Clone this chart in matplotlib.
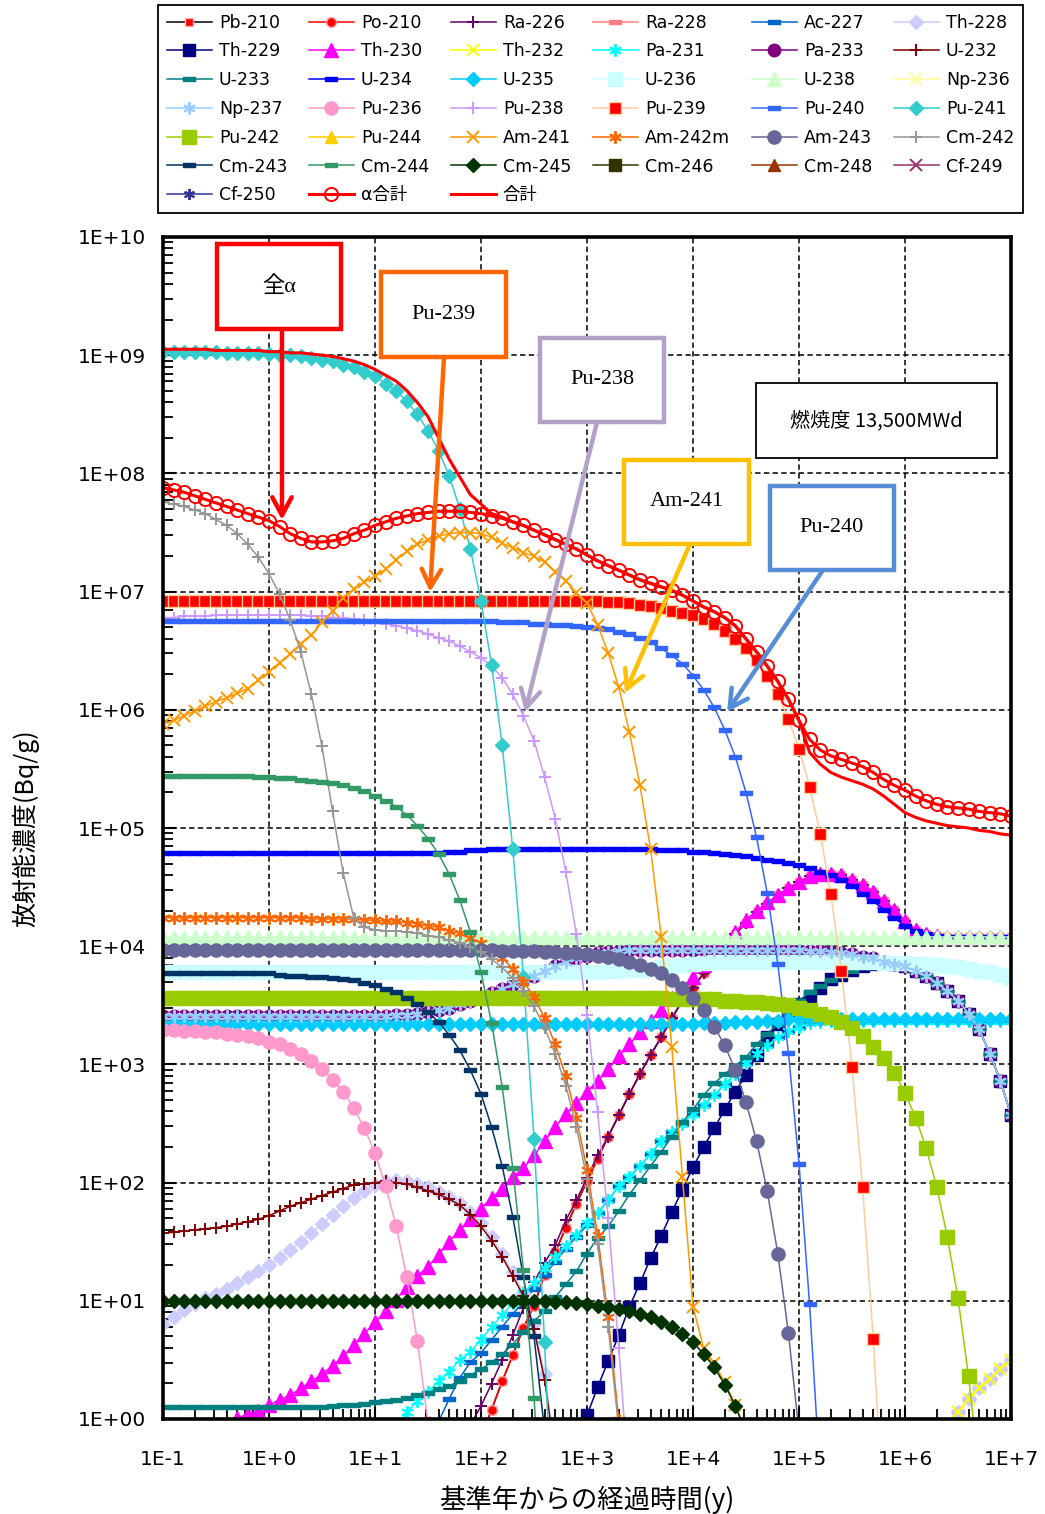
import numpy as np
import matplotlib
matplotlib.use("Agg")
import matplotlib.pyplot as plt
from matplotlib.path import Path
from matplotlib.patches import Rectangle
from matplotlib.ticker import LogLocator, NullFormatter

plt.rcParams['font.family'] = ['DejaVu Sans', 'Noto Sans CJK JP']

nan = np.nan

# time grid of the table: 10 points per decade, 1E-1 .. 1E+7 y
log_t = np.round(np.arange(-1.0, 7.001, 0.1), 1)
t = 10.0 ** log_t

x_tick_labels = ['1E-1', '1E+0', '1E+1', '1E+2', '1E+3', '1E+4', '1E+5', '1E+6', '1E+7']
y_tick_labels = ['1E+00', '1E+01', '1E+02', '1E+03', '1E+04', '1E+05',
                 '1E+06', '1E+07', '1E+08', '1E+09', '1E+10']

# each series: (log10 t of first value, log10 activity [Bq/g])
pb210 = (2.0, [-0.15, 0.08, 0.32, 0.54, 0.77, 0.96, 1.22, 1.41, 1.62, 1.82, 2.01, 2.20,
               2.39, 2.57, 2.75, 2.92, 3.08, 3.23, 3.39, 3.54, 3.65, 3.77, 3.89, 4.00, 4.10,
               4.20, 4.29, 4.36, 4.43, 4.49, 4.54, 4.59, 4.61, 4.61, 4.60, 4.56, 4.52, 4.46,
               4.38, 4.31, 4.21, 4.14, 4.10, 4.09] + [4.08] * 7)
po210 = pb210
ra226 = (1.9, [-0.05, 0.11, 0.30, 0.50, 0.71, 0.94, 1.16, 1.32, 1.47, 1.68, 1.85, 2.04,
               2.23, 2.39, 2.57, 2.75, 2.92, 3.08, 3.23, 3.39, 3.54, 3.65, 3.77, 3.89, 4.00,
               4.10, 4.20, 4.29, 4.36, 4.43, 4.49, 4.54, 4.59, 4.61, 4.61, 4.60, 4.56, 4.52,
               4.46, 4.38, 4.31, 4.21, 4.14, 4.10, 4.09] + [4.08] * 7)
th232 = (6.3, [-0.14, -0.04, 0.06, 0.17, 0.26, 0.34, 0.42, 0.50])
ra228 = th232
ac227 = (1.5, [-0.3, -0.02, 0.17, 0.35, 0.48, 0.56, 0.67, 0.78, 0.89, 0.99, 1.10, 1.22,
               1.33, 1.44, 1.54, 1.64, 1.74, 1.85, 1.97, 2.05, 2.14, 2.24, 2.35, 2.43, 2.50,
               2.58, 2.66, 2.74, 2.83, 2.92, 3.01, 3.09, 3.16, 3.23, 3.28, 3.32, 3.35, 3.36]
         + [3.37] * 18)
th228 = (-1.0, [0.80, 0.86, 0.92, 0.97, 1.02, 1.06, 1.10, 1.15, 1.20, 1.25, 1.30, 1.36,
                1.43, 1.50, 1.57, 1.65, 1.73, 1.80, 1.87, 1.93, 1.98, 2.01, 2.02, 2.01, 1.99,
                1.96, 1.92, 1.88, 1.83, 1.75, 1.66, 1.54, 1.40, 1.24, 1.07, 0.80, 0.38, -0.3]
         + [nan] * 35 + [-0.14, -0.04, 0.06, 0.17, 0.26, 0.34, 0.42, 0.50])
th229 = (2.9, [-0.3, 0.03, 0.27, 0.49, 0.71, 0.95, 1.15, 1.36, 1.55, 1.75, 1.94, 2.13,
               2.30, 2.46, 2.62, 2.77, 2.91, 3.08, 3.23, 3.34, 3.43, 3.51, 3.58, 3.65, 3.72,
               3.76, 3.80, 3.83, 3.85, 3.86, 3.85, 3.83, 3.79, 3.75, 3.69, 3.62, 3.54, 3.43,
               3.30, 3.09, 2.86, 2.57])
th230 = (-0.4, [-0.12, 0.01, 0.04, 0.07, 0.12, 0.16, 0.20, 0.26, 0.32, 0.38, 0.45, 0.53,
                0.63, 0.72, 0.82, 0.91, 1.01, 1.12, 1.21, 1.29, 1.39, 1.50, 1.60, 1.69, 1.78,
                1.87, 1.95, 2.05, 2.12, 2.23, 2.35, 2.47, 2.58, 2.67, 2.77, 2.86, 2.96, 3.07,
                3.17, 3.27, 3.37, 3.46, 3.56, 3.65, 3.74, 3.84, 3.94, 4.03, 4.12, 4.22, 4.30,
                4.37, 4.43, 4.49, 4.54, 4.59, 4.61, 4.61, 4.60, 4.56, 4.52, 4.46, 4.38, 4.31,
                4.21, 4.14, 4.10, 4.09] + [4.08] * 7)
pa231 = (1.2, [-0.1, 0.06, 0.15, 0.23, 0.32, 0.40, 0.50, 0.57, 0.67, 0.78, 0.88, 0.98,
               1.07, 1.15, 1.28, 1.37, 1.46, 1.56, 1.66, 1.74, 1.85, 1.97, 2.05, 2.14, 2.24,
               2.35, 2.43, 2.50, 2.58, 2.66, 2.74, 2.83, 2.92, 3.01, 3.09, 3.16, 3.23, 3.28,
               3.32, 3.35, 3.36] + [3.37] * 18)
np237 = (-1.0, [3.41] * 22 +
         [3.42, 3.42, 3.43, 3.44, 3.46, 3.48, 3.51, 3.54, 3.57, 3.60, 3.64, 3.68, 3.72,
          3.75, 3.79, 3.83, 3.87, 3.90, 3.92, 3.94, 3.95, 3.96] + [3.97] * 17 +
         [3.96, 3.96, 3.95, 3.94, 3.93, 3.91, 3.90, 3.87, 3.85, 3.83, 3.79, 3.75, 3.69,
          3.62, 3.54, 3.43, 3.30, 3.09, 2.86, 2.57])
pa233 = np237
u232 = (-1.0, [1.57, 1.58, 1.59, 1.60, 1.61, 1.62, 1.63, 1.65, 1.67, 1.69, 1.72, 1.76,
               1.80, 1.83, 1.86, 1.89, 1.92, 1.95, 1.98, 1.99, 2.00, 2.01, 2.00, 1.99, 1.96,
               1.93, 1.90, 1.86, 1.81, 1.73, 1.63, 1.51, 1.37, 1.21, 1.04, 0.76, 0.33, -0.3])
u233 = (-1.0, [0.10] * 16 +
        [0.11, 0.12, 0.12, 0.13, 0.14, 0.15, 0.16, 0.18, 0.20, 0.22, 0.25, 0.28, 0.32,
         0.37, 0.42, 0.48, 0.55, 0.63, 0.74, 0.83, 0.91, 1.03, 1.14, 1.25, 1.40, 1.53,
         1.63, 1.76, 1.90, 2.02, 2.14, 2.26, 2.39, 2.51, 2.62, 2.74, 2.84, 2.92, 2.99,
         3.06, 3.17, 3.26, 3.34, 3.44, 3.54, 3.61, 3.66, 3.71, 3.76, 3.79, 3.82, 3.84,
         3.85, 3.84, 3.82, 3.79, 3.75, 3.69, 3.62, 3.54, 3.43, 3.30, 3.09, 2.86, 2.57])
u234 = (-1.0, [4.79] * 27 + [4.80, 4.80, 4.81, 4.81] + [4.82] * 16 +
        [4.81, 4.81, 4.81, 4.80, 4.80, 4.79, 4.78, 4.77, 4.76, 4.75, 4.73, 4.72, 4.70,
         4.69, 4.66, 4.63, 4.60, 4.56, 4.51, 4.44, 4.38, 4.31, 4.24, 4.17, 4.13, 4.10,
         4.09] + [4.08] * 7)
u235 = (-1.0, [3.34] * 51 + [3.35, 3.35, 3.35, 3.36, 3.36, 3.36, 3.37, 3.37] + [3.38] * 22)
u236 = (-1.0, [3.78] * 42 + [3.79, 3.79, 3.80, 3.80, 3.81, 3.82, 3.83, 3.84, 3.85, 3.86]
        + [3.87] * 16 +
        [3.86, 3.86, 3.86, 3.85, 3.85, 3.84, 3.83, 3.82, 3.81, 3.79, 3.78, 3.76, 3.73])
u238 = (-1.0, [4.08] * 81)
pu236 = (-1.0, [3.29, 3.29, 3.28, 3.28, 3.27, 3.27, 3.26, 3.25, 3.24, 3.22, 3.19, 3.17,
                3.13, 3.09, 3.03, 2.96, 2.87, 2.77, 2.63, 2.46, 2.25, 1.97, 1.63, 1.20, 0.66,
                -0.03, -0.8])
pu238 = (-1.0, [6.78, 6.78, 6.79, 6.79, 6.79] + [6.80] * 9 +
         [6.79, 6.79, 6.78, 6.78, 6.77, 6.76, 6.75, 6.73, 6.71, 6.69, 6.67, 6.64, 6.61,
          6.58, 6.54, 6.49, 6.44, 6.37, 6.27, 6.13, 5.95, 5.74, 5.43, 5.08, 4.63, 4.10,
          3.42, 2.60, 1.70, 0.60, -0.6])
pu239 = (-1.0, [6.92] * 42 +
         [6.91, 6.91, 6.90, 6.89, 6.88, 6.86, 6.84, 6.82, 6.80, 6.77, 6.73, 6.67, 6.60,
          6.52, 6.42, 6.29, 6.13, 5.92, 5.67, 5.35, 4.95, 4.44, 3.79, 2.98, 1.96, 0.68,
          -0.9])
pu240 = (-1.0, [6.75] * 32 +
         [6.74, 6.74, 6.74, 6.73, 6.73, 6.72, 6.72, 6.71, 6.70, 6.69, 6.68, 6.66, 6.64,
          6.61, 6.57, 6.52, 6.46, 6.39, 6.29, 6.17, 6.02, 5.83, 5.60, 5.30, 4.92, 4.45,
          3.85, 3.10, 2.16, 0.97, -0.5])
pu241 = (-1.0, [9.03] * 6 + [9.02] * 4 +
         [9.01, 9.00, 9.00, 8.99, 8.98, 8.96, 8.95, 8.92, 8.90, 8.86, 8.82, 8.76, 8.70,
          8.61, 8.50, 8.36, 8.19, 7.98, 7.70, 7.36, 6.92, 6.38, 5.70, 4.82, 3.74, 2.37,
          0.65, -1.5])
pu242 = (-1.0, [3.56] * 48 + [3.55] * 5 +
         [3.54, 3.54, 3.53, 3.53, 3.52, 3.51, 3.50, 3.48, 3.46, 3.43, 3.40, 3.36, 3.31,
          3.24, 3.15, 3.05, 2.93, 2.76, 2.55, 2.29, 1.96, 1.54, 1.02, 0.36, -0.46])
am241 = (-1.0, [5.88, 5.91, 5.95, 5.99, 6.03, 6.07, 6.10, 6.14, 6.18, 6.25, 6.32, 6.40,
                6.47, 6.56, 6.63, 6.74, 6.84, 6.95, 7.02, 7.08, 7.13, 7.19, 7.27, 7.34, 7.40,
                7.44, 7.47, 7.49, 7.50, 7.50, 7.49, 7.46, 7.41, 7.37, 7.33, 7.30, 7.25, 7.17,
                7.09, 6.99, 6.90, 6.72, 6.48, 6.19, 5.81, 5.36, 4.82, 4.08, 3.15, 2.05, 0.95,
                0.60, 0.47, 0.31, 0.12, -0.11])
am242m = (-1.0, [4.24] * 14 + [4.23] * 5 +
          [4.22, 4.22, 4.21, 4.21, 4.20, 4.19, 4.17, 4.16, 4.13, 4.11, 4.07, 4.03, 3.97,
           3.90, 3.81, 3.70, 3.57, 3.39, 3.17, 2.90, 2.55, 2.11, 1.56, 0.86, -0.01, -1.2])
am243 = (-1.0, [3.97] * 32 +
         [3.96, 3.96, 3.96, 3.96, 3.95, 3.95, 3.94, 3.94, 3.93, 3.92, 3.91, 3.89, 3.87,
          3.84, 3.81, 3.77, 3.71, 3.65, 3.56, 3.46, 3.32, 3.16, 2.95, 2.68, 2.35, 1.93,
          1.40, 0.73, -0.11])
cm242 = (-1.0, [7.76, 7.74, 7.72, 7.69, 7.66, 7.61, 7.56, 7.49, 7.40, 7.29, 7.15, 6.98,
                6.76, 6.49, 6.13, 5.69, 5.14, 4.62, 4.24, 4.16, 4.14, 4.13, 4.13, 4.12, 4.11,
                4.09, 4.08, 4.05, 4.03, 3.99, 3.95, 3.89, 3.82, 3.73, 3.62, 3.49, 3.31, 3.09,
                2.82, 2.47, 2.03, 1.48, 0.78, -0.09])
cm243 = (-1.0, [3.77] * 11 +
         [3.76, 3.75, 3.75, 3.74, 3.74, 3.73, 3.72, 3.71, 3.69, 3.67, 3.64, 3.61, 3.56,
          3.51, 3.44, 3.36, 3.25, 3.12, 2.95, 2.75, 2.47, 2.14, 1.71, 1.20, 0.70, -0.1])
cm244 = (-1.0, [5.44] * 9 +
         [5.43, 5.43, 5.42, 5.42, 5.41, 5.40, 5.39, 5.38, 5.36, 5.34, 5.31, 5.27, 5.23,
          5.18, 5.11, 5.02, 4.91, 4.78, 4.61, 4.39, 4.12, 3.78, 3.35, 2.81, 2.12, 1.26,
          0.18, -1.18])
cm245 = (-1.0, [1.00] * 37 +
         [0.99, 0.99, 0.98, 0.97, 0.96, 0.95, 0.93, 0.91, 0.89, 0.86, 0.82, 0.78, 0.72,
          0.65, 0.55, 0.44, 0.29, 0.11, -0.12])
alpha_total = (-1.0, [7.88, 7.86, 7.84, 7.81, 7.78, 7.75, 7.72, 7.69, 7.66, 7.63, 7.60,
                      7.55, 7.49, 7.45, 7.42, 7.42, 7.43, 7.45, 7.49, 7.52, 7.56, 7.59,
                      7.62, 7.64, 7.66, 7.67, 7.68, 7.68, 7.68, 7.67, 7.66, 7.64, 7.62,
                      7.59, 7.56, 7.52, 7.48, 7.44, 7.40, 7.36, 7.31, 7.26, 7.22, 7.18,
                      7.14, 7.10, 7.07, 7.04, 7.01, 6.97, 6.92, 6.87, 6.83, 6.78, 6.71,
                      6.60, 6.49, 6.37, 6.24, 6.09, 5.91, 5.75, 5.66, 5.61, 5.58, 5.55,
                      5.52, 5.47, 5.41, 5.36, 5.32, 5.27, 5.23, 5.20, 5.18, 5.17, 5.16,
                      5.14, 5.13, 5.12, 5.10])
grand_total = (-1.0, [9.05] * 5 + [9.04] * 5 +
               [9.03, 9.03, 9.02, 9.02, 9.01, 9.00, 8.99, 8.97, 8.95, 8.92, 8.88, 8.83,
                8.78, 8.70, 8.60, 8.48, 8.30, 8.12, 7.97, 7.82, 7.74, 7.66, 7.63, 7.59,
                7.56, 7.52, 7.48, 7.44, 7.40, 7.36, 7.31, 7.26, 7.22, 7.18, 7.14, 7.10,
                7.07, 7.04, 7.01, 6.97, 6.92, 6.87, 6.83, 6.78, 6.71, 6.60, 6.49, 6.37,
                6.24, 6.09, 5.91, 5.64, 5.54, 5.47, 5.43, 5.40, 5.37, 5.33, 5.27, 5.20,
                5.13, 5.09, 5.06, 5.04, 5.02, 5.01, 5.00, 4.98, 4.97, 4.95, 4.94])
no_data = None   # Np-236, Pu-244, Cm-246, Cm-248, Cf-249, Cf-250 stay below 1 Bq/g


def on_grid(series):
    start, logs = series
    arr = np.full(log_t.size, nan)
    i0 = int(round((start - log_t[0]) * 10))
    arr[i0:i0 + len(logs)] = logs
    return 10.0 ** arr


dash = Path([(-1, -0.33), (1, -0.33), (1, 0.33), (-1, 0.33), (-1, -0.33)],
            [Path.MOVETO, Path.LINETO, Path.LINETO, Path.LINETO, Path.CLOSEPOLY])
star = (6, 2, 0)

# label, data, line colour, marker, size, face, edge
styles = [
    ('Pb-210', pb210, '#000000', 's', 6, '#FF0000', '#FFB0B0'),
    ('Po-210', po210, '#FF0000', 'o', 7, '#FF0000', '#FF9999'),
    ('Ra-226', ra226, '#660066', '+', 9, None, None),
    ('Ra-228', ra228, '#FF8080', dash, 8, None, None),
    ('Ac-227', ac227, '#0066CC', dash, 9, None, None),
    ('Th-228', th228, '#CCCCFF', 'D', 7, None, None),
    ('Th-229', th229, '#000080', 's', 9, None, None),
    ('Th-230', th230, '#FF00FF', '^', 9.5, None, None),
    ('Th-232', th232, '#FFFF00', 'x', 8.5, None, None),
    ('Pa-231', pa231, '#00FFFF', star, 9, None, None),
    ('Pa-233', pa233, '#800080', 'o', 9, None, None),
    ('U-232', u232, '#800000', '+', 9, None, None),
    ('U-233', u233, '#008080', dash, 8, None, None),
    ('U-234', u234, '#0000FF', dash, 9, None, None),
    ('U-235', u235, '#00CCFF', 'D', 7, None, None),
    ('U-236', u236, '#CCFFFF', 's', 9.5, None, None),
    ('U-238', u238, '#CCFFCC', '^', 9.5, None, None),
    ('Np-236', no_data, '#FFFF99', 'x', 8, None, None),
    ('Np-237', np237, '#99CCFF', star, 9, None, None),
    ('Pu-236', pu236, '#FF99CC', 'o', 9.5, None, None),
    ('Pu-238', pu238, '#CC99FF', '+', 9, None, None),
    ('Pu-239', pu239, '#FFCC99', 's', 9, '#FF0000', '#FFCC99'),
    ('Pu-240', pu240, '#3366FF', dash, 9, None, None),
    ('Pu-241', pu241, '#33CCCC', 'D', 7.5, None, None),
    ('Pu-242', pu242, '#99CC00', 's', 10, None, None),
    ('Pu-244', no_data, '#FFCC00', '^', 9, None, None),
    ('Am-241', am241, '#FF9900', 'x', 8.5, None, None),
    ('Am-242m', am242m, '#FF6600', star, 9, None, None),
    ('Am-243', am243, '#666699', 'o', 9.5, None, None),
    ('Cm-242', cm242, '#969696', '+', 9, None, None),
    ('Cm-243', cm243, '#003366', dash, 8, None, None),
    ('Cm-244', cm244, '#339966', dash, 9, None, None),
    ('Cm-245', cm245, '#003300', 'D', 7, None, None),
    ('Cm-246', no_data, '#333300', 's', 9, None, None),
    ('Cm-248', no_data, '#993300', '^', 9, None, None),
    ('Cf-249', no_data, '#993366', 'x', 8, None, None),
    ('Cf-250', no_data, '#333399', star, 8, None, None),
]

fig = plt.figure(figsize=(10.45, 15.14), dpi=100)
ax = fig.add_axes([163 / 1045, 95 / 1514, 848 / 1045, 1182 / 1514])
ax.set_xscale('log')
ax.set_yscale('log')

handles = []
for label, data, color, marker, ms, mfc, mec in styles:
    if data is None:
        xs, ys = [], []
    else:
        xs, ys = t, on_grid(data)
    thin = marker in ('x', '+') or marker == star
    h, = ax.plot(xs, ys, color=color, lw=1.1, marker=marker, ms=ms,
                 mfc=mfc if mfc else color, mec=mec if mec else color,
                 mew=1.4 if thin else 1.0, label=label)
    handles.append(h)

h, = ax.plot(t, on_grid(alpha_total), color='#FF0000', lw=2.2, marker='o', ms=9.5,
             mfc='none', mec='#FF0000', mew=1.4, label='α合計')
handles.append(h)
h, = ax.plot(t, on_grid(grand_total), color='#FF0000', lw=2.2, label='合計')
handles.append(h)

ax.set_xlim(0.1, 1e7)
ax.set_ylim(1, 1e10)
ax.set_xticks(10.0 ** np.arange(-1, 8))
ax.set_xticklabels(x_tick_labels)
ax.set_yticks(10.0 ** np.arange(0, 11))
ax.set_yticklabels(y_tick_labels)
for axis in (ax.xaxis, ax.yaxis):
    axis.set_minor_locator(LogLocator(base=10, subs=np.arange(2, 10), numticks=100))
    axis.set_minor_formatter(NullFormatter())
ax.tick_params(which='both', direction='in', top=False, right=False, labelsize=14.5)
ax.tick_params(which='major', length=9, width=1.5)
ax.tick_params(which='minor', length=7, width=1.3)
ax.tick_params(axis='x', pad=22)
ax.tick_params(axis='y', pad=12)
ax.grid(True, which='major', color='black', lw=1.1, ls=(0, (3.5, 2.2)))
for sp in ax.spines.values():
    sp.set_linewidth(2.6)

ax.set_xlabel('基準年からの経過時間(y)', fontsize=19, family=['Noto Sans CJK JP', 'DejaVu Sans'],
              labelpad=12)
ax.set_ylabel('放射能濃度(Bq/g)', fontsize=18, family=['Noto Sans CJK JP', 'DejaVu Sans'],
              labelpad=28)

# legend in the top band, row-major like the original
ncol = 6
order = [r * ncol + c for c in range(ncol) for r in range(7) if r * ncol + c < len(handles)]
leg = fig.legend([handles[i] for i in order], [handles[i].get_label() for i in order],
                 loc='upper left', ncol=ncol, mode='expand',
                 bbox_to_anchor=(158 / 1045, 1 - 210 / 1514, 865 / 1045, 205 / 1514),
                 frameon=True, fancybox=False, framealpha=1,
                 edgecolor='black', handlelength=2.6, handletextpad=0.4,
                 labelspacing=0.62, borderpad=0.5, borderaxespad=0,
                 prop={'family': ['DejaVu Sans', 'Noto Sans CJK JP'], 'size': 12.5})
leg.get_frame().set_linewidth(1.3)

# callout boxes (axes fraction) and arrows
boxes = [
    ('全α', '#FF0000', 0.0637, 0.9222, 0.1462, 0.0719, (0.1403, 0.9222), (0.1403, 0.7606)),
    ('Pu-239', '#FF6600', 0.2571, 0.8985, 0.1474, 0.0719, (0.3314, 0.8985), (0.3149, 0.6997)),
    ('Pu-238', '#B3A2C7', 0.4446, 0.8435, 0.1462, 0.0711, (0.5118, 0.8435), (0.4269, 0.5981)),
    ('Am-241', '#FFC000', 0.5436, 0.7403, 0.1474, 0.0711, (0.6215, 0.7403), (0.5448, 0.6142)),
    ('Pu-240', '#558ED5', 0.7158, 0.7183, 0.1462, 0.0711, (0.7783, 0.7183), (0.6651, 0.5981)),
]
for text, color, x0, y0, w, hgt, start, tip in boxes:
    ax.annotate('', xy=tip, xytext=start, xycoords='axes fraction',
                arrowprops=dict(arrowstyle='->,head_length=0.65,head_width=0.35',
                                lw=3.2, color=color, shrinkA=0, shrinkB=0,
                                mutation_scale=20), zorder=20)
    ax.add_patch(Rectangle((x0, y0), w, hgt, transform=ax.transAxes, facecolor='white',
                           edgecolor=color, lw=3.2, zorder=21, clip_on=False))
    ax.text(x0 + w / 2, y0 + hgt / 2, text, transform=ax.transAxes, ha='center',
            va='center', fontsize=16, family=['Liberation Serif', 'Noto Sans CJK JP'],
            zorder=22)

ax.add_patch(Rectangle((0.6993, 0.8130), 0.2842, 0.0635, transform=ax.transAxes,
                       facecolor='white', edgecolor='black', lw=1.3, zorder=21))
ax.text(0.8414, 0.8448, '燃焼度 13,500MWd', transform=ax.transAxes, ha='center',
        va='center', fontsize=14.5, family=['Noto Sans CJK JP', 'DejaVu Sans'], zorder=22)

fig.savefig('out.png', dpi=100)
